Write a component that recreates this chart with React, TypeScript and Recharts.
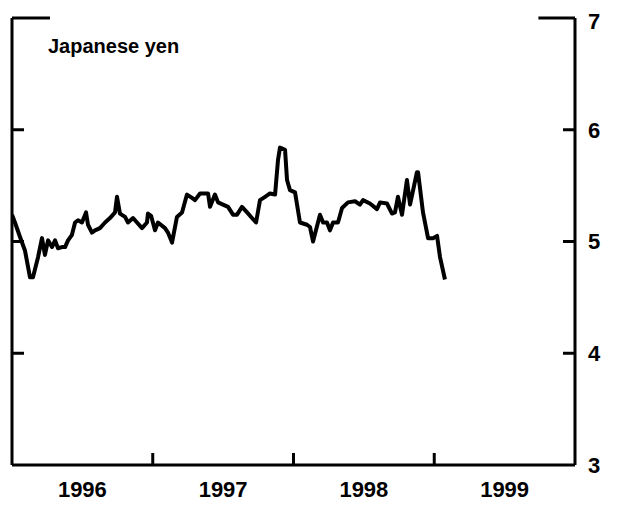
import { Line, LineChart, ReferenceLine, XAxis, YAxis } from 'recharts';

// weekly-ish readings, decimal years
const dates = [
  1996.0, 1996.021, 1996.057, 1996.092, 1996.128, 1996.149, 1996.185, 1996.213, 1996.234, 1996.256,
  1996.284, 1996.306, 1996.327, 1996.355, 1996.377, 1996.398, 1996.426, 1996.448, 1996.469, 1996.497,
  1996.526, 1996.54, 1996.568, 1996.59, 1996.625, 1996.661, 1996.696, 1996.732, 1996.746, 1996.767,
  1996.803, 1996.824, 1996.86, 1996.888, 1996.924, 1996.959, 1996.966, 1996.988, 1997.016, 1997.037,
  1997.087, 1997.108, 1997.137, 1997.172, 1997.208, 1997.243, 1997.279, 1997.3, 1997.336, 1997.371,
  1997.393, 1997.407, 1997.442, 1997.464, 1997.499, 1997.535, 1997.57, 1997.599, 1997.634, 1997.67,
  1997.705, 1997.734, 1997.762, 1997.798, 1997.833, 1997.869, 1997.89, 1997.904, 1997.94, 1997.954,
  1997.975, 1998.011, 1998.046, 1998.096, 1998.117, 1998.139, 1998.188, 1998.21, 1998.238, 1998.259,
  1998.281, 1998.316, 1998.345, 1998.387, 1998.437, 1998.472, 1998.494, 1998.543, 1998.593, 1998.615,
  1998.664, 1998.7, 1998.721, 1998.742, 1998.771, 1998.806, 1998.828, 1998.877, 1998.885, 1998.92,
  1998.956, 1998.991, 1999.02, 1999.041, 1999.076,
];

const yen = [
  5.24, 5.17, 5.04, 4.92, 4.68, 4.68, 4.86, 5.03, 4.88, 5.01,
  4.95, 5.01, 4.94, 4.95, 4.95, 5.01, 5.06, 5.17, 5.19, 5.17,
  5.26, 5.15, 5.08, 5.1, 5.12, 5.17, 5.21, 5.26, 5.4, 5.25,
  5.22, 5.17, 5.21, 5.17, 5.12, 5.17, 5.25, 5.23, 5.1, 5.17,
  5.12, 5.08, 4.99, 5.22, 5.26, 5.42, 5.39, 5.37, 5.43, 5.43,
  5.43, 5.31, 5.42, 5.35, 5.33, 5.31, 5.24, 5.24, 5.31, 5.26,
  5.21, 5.17, 5.37, 5.4, 5.43, 5.42, 5.73, 5.84, 5.82, 5.55,
  5.46, 5.44, 5.17, 5.15, 5.13, 5.0, 5.24, 5.17, 5.17, 5.1,
  5.17, 5.17, 5.3, 5.35, 5.36, 5.33, 5.37, 5.34, 5.29, 5.35,
  5.34, 5.25, 5.26, 5.4, 5.24, 5.55, 5.33, 5.62, 5.62, 5.26,
  5.03, 5.03, 5.05, 4.86, 4.66,
];

const yearLabelTicks = [1996.5, 1997.5, 1998.5, 1999.5];
const yearBreaks = [1997, 1998, 1999];
const rateTicks = [3, 4, 5, 6, 7];
const innerRateTicks = [4, 5, 6];

const data = dates.map((t, i) => ({ t, yen: yen[i] }));

const INK = '#000';
const FONT = '"Liberation Sans", Arial, Helvetica, sans-serif';
const tickText = { fill: INK, fontSize: 22, fontFamily: FONT, fontWeight: 700 };
const tickStroke = { stroke: INK, strokeWidth: 3 };
const noLabel = () => '';

export default function App() {
  return (
    <div style={{ position: 'relative', width: 603, height: 500, background: '#fff' }}>
      <LineChart width={603} height={500} data={data} margin={{ top: 10, right: 0, bottom: 0, left: 4 }}>
        <XAxis
          xAxisId="main"
          dataKey="t"
          type="number"
          domain={[1996, 2000]}
          allowDataOverflow
          ticks={yearLabelTicks}
          tickFormatter={(v: number) => String(Math.floor(v))}
          tickLine={false}
          tickMargin={10}
          axisLine={tickStroke}
          tick={tickText}
          height={43}
        />
        <XAxis
          xAxisId="inner"
          dataKey="t"
          type="number"
          domain={[1996, 2000]}
          allowDataOverflow
          ticks={yearBreaks}
          mirror
          tickFormatter={noLabel}
          tickSize={12}
          axisLine={false}
          tickLine={tickStroke}
        />
        <YAxis
          yAxisId="left"
          orientation="left"
          mirror
          domain={[3, 7]}
          allowDataOverflow
          ticks={innerRateTicks}
          tickFormatter={noLabel}
          tickSize={12}
          axisLine={tickStroke}
          tickLine={tickStroke}
        />
        <YAxis
          yAxisId="rightIn"
          orientation="right"
          mirror
          domain={[3, 7]}
          allowDataOverflow
          ticks={innerRateTicks}
          tickFormatter={noLabel}
          tickSize={12}
          axisLine={false}
          tickLine={tickStroke}
        />
        <YAxis
          yAxisId="right"
          orientation="right"
          domain={[3, 7]}
          allowDataOverflow
          ticks={rateTicks}
          tickLine={false}
          tickMargin={7}
          axisLine={tickStroke}
          tick={tickText}
          width={36}
        />
        <ReferenceLine
          xAxisId="main"
          yAxisId="left"
          segment={[{ x: 1996, y: 7 }, { x: 1996.27, y: 7 }]}
          stroke={INK}
          strokeWidth={3}
        />
        <ReferenceLine
          xAxisId="main"
          yAxisId="left"
          segment={[{ x: 1999.74, y: 7 }, { x: 2000, y: 7 }]}
          stroke={INK}
          strokeWidth={3}
        />
        <Line
          xAxisId="main"
          yAxisId="left"
          type="linear"
          dataKey="yen"
          stroke={INK}
          strokeWidth={4}
          strokeLinejoin="round"
          dot={false}
          isAnimationActive={false}
        />
      </LineChart>
      <div
        style={{
          position: 'absolute',
          left: 40,
          top: 28,
          fontFamily: FONT,
          fontSize: 20,
          fontWeight: 700,
          lineHeight: '20px',
          color: INK,
        }}
      >
        Japanese yen
      </div>
    </div>
  );
}
